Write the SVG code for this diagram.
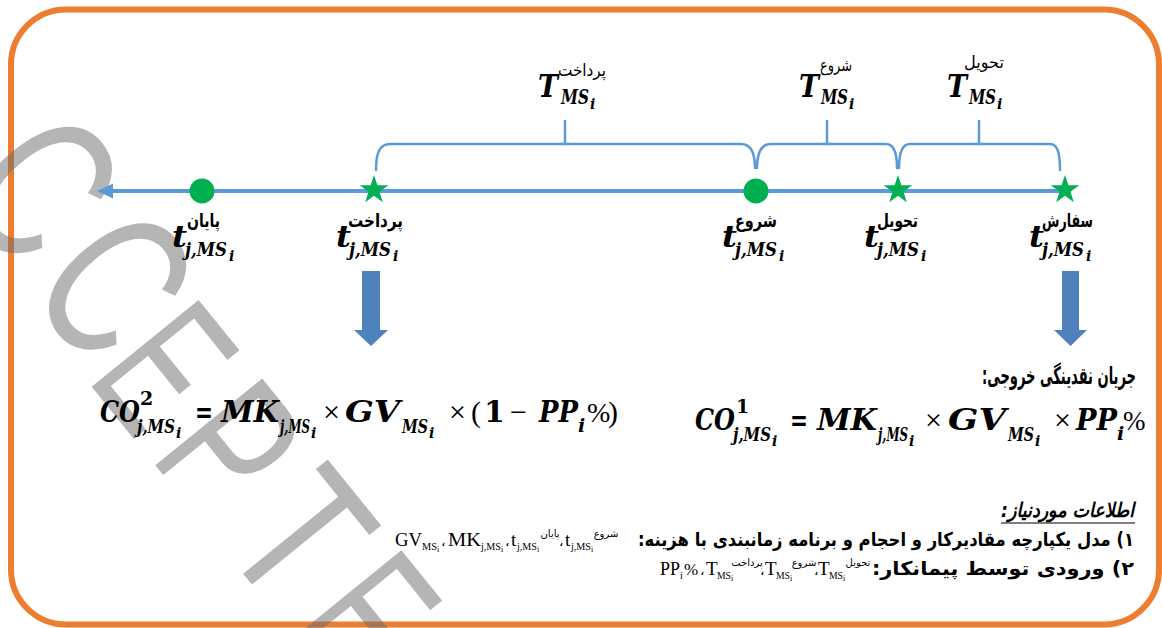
<svg xmlns="http://www.w3.org/2000/svg" width="1162" height="628" viewBox="0 0 1162 628">
<defs>
<style>
.mi{font-family:"DejaVu Serif",serif;font-weight:bold;font-style:italic;fill:#000}
.mb{font-family:"DejaVu Serif",serif;font-weight:bold;fill:#000}
.mr{font-family:"Liberation Serif",serif;fill:#000}
.fb{font-family:"DejaVu Sans",sans-serif;font-weight:bold;fill:#000}
.fr{font-family:"DejaVu Sans",sans-serif;fill:#000}
.rtl{direction:rtl}
.tn{font-family:"Liberation Serif",serif;fill:#000}
.ln{fill:none;stroke:#5B9BD5;stroke-width:2.5;stroke-linecap:round}
.wm{font-family:"Liberation Sans",sans-serif;font-size:200px;fill:#6B6B6B;fill-opacity:.5}
.dot{fill:#00B050}
.arr{fill:#4F81BD}
</style>
<path id="star" class="dot" d="M0,-15 L3.36,-4.64 L14.27,-4.64 L5.45,1.77 L8.82,12.14 L0,5.73 L-8.82,12.14 L-5.45,1.77 L-14.27,-4.64 L-3.36,-4.64 Z"/>
</defs>
<rect width="1162" height="628" fill="#fff"/>
<rect id="frame" x="11" y="9.5" width="1148" height="615" rx="55" fill="none" stroke="#ED7D31" stroke-width="6"/>

<g id="watermark" transform="rotate(51)">
<text class="wm" transform="translate(-14,172) scale(0.7,1)">A</text>
<text class="wm" transform="translate(118,160) scale(0.74,1.07)">C</text>
<text class="wm" transform="translate(240,163) scale(0.74,1.07)">C</text>
<text class="wm" transform="translate(348,172) scale(0.62,1)">E</text>
<text class="wm" transform="translate(448,172) scale(0.68,1)">P</text>
<text class="wm" transform="translate(560,172) scale(0.75,1)">T</text>
<text class="wm" transform="translate(670,172) scale(0.62,1)">E</text>
<text class="wm" transform="translate(770,172) scale(0.7,1)">D</text>
</g>

<g id="connectors">
<line x1="110" y1="191" x2="1065" y2="191" stroke="#5B9BD5" stroke-width="4"/>
<polygon points="97,191 113,183.5 113,198.5" fill="#5B9BD5"/>
<path class="ln" d="M376,170 C376,154 379,144 390,144 L741,144 C752,144 755,154 755,168"/>
<path class="ln" d="M757,168 C757,154 760,144 771,144 L886,144 C894,144 897,154 897,168"/>
<path class="ln" d="M899,168 C899,154 902,144 910,144 L1050,144 C1058,144 1060,154 1060,170"/>
<path class="ln" d="M565,144 V121 M827,144 V121 M979,144 V121"/>
</g>

<g id="T-pardakht">
<text class="fr" x="582" y="76" font-size="17" text-anchor="middle" textLength="48" lengthAdjust="spacingAndGlyphs">پرداخت</text>
<text class="mi" x="538" y="97" font-size="31" textLength="20" lengthAdjust="spacingAndGlyphs">T</text>
<text class="mi" x="561" y="104" font-size="20" textLength="28" lengthAdjust="spacingAndGlyphs">MS</text>
<text class="mi" x="590" y="109" font-size="14">i</text>
</g>
<g id="T-shoru">
<text class="fr" x="836" y="71" font-size="17" text-anchor="middle" textLength="32" lengthAdjust="spacingAndGlyphs">شروع</text>
<text class="mi" x="799" y="97" font-size="31" textLength="20" lengthAdjust="spacingAndGlyphs">T</text>
<text class="mi" x="821" y="104" font-size="20" textLength="27" lengthAdjust="spacingAndGlyphs">MS</text>
<text class="mi" x="849" y="109" font-size="14">i</text>
</g>
<g id="T-tahvil">
<text class="fr" x="984" y="68" font-size="17" text-anchor="middle" textLength="40" lengthAdjust="spacingAndGlyphs">تحویل</text>
<text class="mi" x="947" y="97" font-size="31" textLength="20" lengthAdjust="spacingAndGlyphs">T</text>
<text class="mi" x="969" y="104" font-size="20" textLength="27" lengthAdjust="spacingAndGlyphs">MS</text>
<text class="mi" x="997" y="109" font-size="14">i</text>
</g>

<g id="node-payan">
<circle class="dot" cx="202" cy="191" r="12.5"/>
<text class="fb" x="203.5" y="227" font-size="19" text-anchor="middle" textLength="33" lengthAdjust="spacingAndGlyphs">پایان</text>
<text class="mi" x="172" y="247" font-size="29" textLength="15" lengthAdjust="spacingAndGlyphs">t</text>
<text class="mi" x="185" y="256" font-size="19" textLength="42" lengthAdjust="spacingAndGlyphs">j,MS</text>
<text class="mi" x="229" y="261" font-size="14">i</text>
</g>
<g id="node-pardakht">
<use href="#star" x="374" y="190"/>
<text class="fb" x="375.5" y="227" font-size="19" text-anchor="middle" textLength="55" lengthAdjust="spacingAndGlyphs">پرداخت</text>
<text class="mi" x="336" y="247" font-size="29" textLength="15" lengthAdjust="spacingAndGlyphs">t</text>
<text class="mi" x="349" y="256" font-size="19" textLength="42" lengthAdjust="spacingAndGlyphs">j,MS</text>
<text class="mi" x="393" y="261" font-size="14">i</text>
</g>
<g id="node-shoru">
<circle class="dot" cx="756" cy="191" r="12.5"/>
<text class="fb" x="756" y="227" font-size="19" text-anchor="middle" textLength="42" lengthAdjust="spacingAndGlyphs">شروع</text>
<text class="mi" x="722" y="247" font-size="29" textLength="15" lengthAdjust="spacingAndGlyphs">t</text>
<text class="mi" x="735" y="256" font-size="19" textLength="42" lengthAdjust="spacingAndGlyphs">j,MS</text>
<text class="mi" x="779" y="261" font-size="14">i</text>
</g>
<g id="node-tahvil">
<use href="#star" x="898" y="190"/>
<text class="fb" x="897.5" y="227" font-size="19" text-anchor="middle" textLength="41" lengthAdjust="spacingAndGlyphs">تحویل</text>
<text class="mi" x="864" y="247" font-size="29" textLength="15" lengthAdjust="spacingAndGlyphs">t</text>
<text class="mi" x="877" y="256" font-size="19" textLength="42" lengthAdjust="spacingAndGlyphs">j,MS</text>
<text class="mi" x="921" y="261" font-size="14">i</text>
</g>
<g id="node-sefaresh">
<use href="#star" x="1065" y="190"/>
<text class="fb" x="1067.5" y="227" font-size="19" text-anchor="middle" textLength="51" lengthAdjust="spacingAndGlyphs">سفارش</text>
<text class="mi" x="1029" y="247" font-size="29" textLength="15" lengthAdjust="spacingAndGlyphs">t</text>
<text class="mi" x="1042" y="256" font-size="19" textLength="42" lengthAdjust="spacingAndGlyphs">j,MS</text>
<text class="mi" x="1086" y="261" font-size="14">i</text>
</g>

<g id="arrow-left">
<polygon class="arr" points="362,271 380,271 380,330 388,330 371,346 354,330 362,330"/>
</g>
<g id="arrow-right">
<polygon class="arr" points="1062,271 1079,271 1079,330 1087,330 1070.5,346 1054,330 1062,330"/>
</g>

<g id="formula-co2">
<text class="mi" x="100" y="422" font-size="30" textLength="40" lengthAdjust="spacingAndGlyphs">CO</text>
<text class="mb" x="140" y="405" font-size="19">2</text>
<text class="mi" x="137" y="433" font-size="19" textLength="38" lengthAdjust="spacingAndGlyphs">j,MS</text>
<text class="mi" x="176" y="438" font-size="14">i</text>
<text class="mb" x="195" y="422" font-size="30" textLength="18" lengthAdjust="spacingAndGlyphs">=</text>
<text class="mi" x="221" y="422" font-size="30" textLength="58" lengthAdjust="spacingAndGlyphs">MK</text>
<text class="mi" x="280" y="433" font-size="19" textLength="30" lengthAdjust="spacingAndGlyphs">j,MS</text>
<text class="mi" x="311" y="438" font-size="14">i</text>
<text class="mr" x="323" y="422" font-size="30">×</text>
<text class="mi" x="345" y="422" font-size="30" textLength="55" lengthAdjust="spacingAndGlyphs">GV</text>
<text class="mi" x="402" y="433" font-size="19" textLength="26" lengthAdjust="spacingAndGlyphs">MS</text>
<text class="mi" x="429" y="438" font-size="14">i</text>
<text class="mr" x="449" y="422" font-size="30">×</text>
<text class="mr" x="471" y="422" font-size="30">(</text>
<text class="mb" x="484" y="422" font-size="30">1</text>
<text class="mr" x="510" y="422" font-size="30">−</text>
<text class="mi" x="539" y="422" font-size="30" textLength="39" lengthAdjust="spacingAndGlyphs">PP</text>
<text class="mi" x="578" y="432" font-size="19">i</text>
<text class="mr" x="587" y="422" font-size="28">%</text>
<text class="mr" x="608" y="422" font-size="30">)</text>
</g>

<g id="formula-co1">
<text class="fb rtl" x="1136" y="384" font-size="24" textLength="154" lengthAdjust="spacingAndGlyphs">جریان نقدینگی خروجی:</text>
<text class="mi" x="695" y="430" font-size="30" textLength="40" lengthAdjust="spacingAndGlyphs">CO</text>
<text class="mb" x="736" y="413" font-size="19">1</text>
<text class="mi" x="733" y="441" font-size="19" textLength="38" lengthAdjust="spacingAndGlyphs">j,MS</text>
<text class="mi" x="772" y="446" font-size="14">i</text>
<text class="mb" x="790" y="430" font-size="30" textLength="18" lengthAdjust="spacingAndGlyphs">=</text>
<text class="mi" x="817" y="430" font-size="30" textLength="60" lengthAdjust="spacingAndGlyphs">MK</text>
<text class="mi" x="878" y="441" font-size="19" textLength="30" lengthAdjust="spacingAndGlyphs">j,MS</text>
<text class="mi" x="909" y="446" font-size="14">i</text>
<text class="mr" x="925" y="430" font-size="30">×</text>
<text class="mi" x="948" y="430" font-size="30" textLength="58" lengthAdjust="spacingAndGlyphs">GV</text>
<text class="mi" x="1008" y="441" font-size="19" textLength="26" lengthAdjust="spacingAndGlyphs">MS</text>
<text class="mi" x="1035" y="446" font-size="14">i</text>
<text class="mr" x="1054" y="430" font-size="30">×</text>
<text class="mi" x="1076" y="430" font-size="30" textLength="41" lengthAdjust="spacingAndGlyphs">PP</text>
<text class="mi" x="1117" y="440" font-size="19">i</text>
<text class="mr" x="1123" y="430" font-size="27">%</text>
</g>

<g id="info">
<text class="fb rtl" x="1134" y="517" font-size="20" font-style="italic" textLength="133" lengthAdjust="spacingAndGlyphs">اطلاعات موردنیاز:</text>
<line x1="1001" y1="523" x2="1135" y2="523" stroke="#000" stroke-width="1.2"/>

<text class="fb rtl" x="1134" y="546" font-size="19" textLength="496" lengthAdjust="spacingAndGlyphs">۱) مدل یکپارچه مقادیرکار و احجام و برنامه زمانبندی با هزینه:</text>
<text class="tn" x="395" y="546" font-size="19" textLength="27" lengthAdjust="spacingAndGlyphs">GV</text>
<text class="tn" x="422" y="550" font-size="11" textLength="15" lengthAdjust="spacingAndGlyphs">MS</text>
<text class="tn" x="437" y="552" font-size="8">i</text>
<text class="fr" x="441" y="546" font-size="14">،</text>
<text class="tn" x="448" y="546" font-size="19" textLength="33" lengthAdjust="spacingAndGlyphs">MK</text>
<text class="tn" x="481" y="550" font-size="11" textLength="20" lengthAdjust="spacingAndGlyphs">j,MS</text>
<text class="tn" x="501" y="552" font-size="8">i</text>
<text class="fr" x="505" y="546" font-size="14">،</text>
<text class="tn" x="511" y="546" font-size="19">t</text>
<text class="tn" x="517" y="550" font-size="11" textLength="20" lengthAdjust="spacingAndGlyphs">j,MS</text>
<text class="tn" x="537" y="552" font-size="8">i</text>
<text class="fr" x="550" y="537" font-size="10" text-anchor="middle">پایان</text>
<text class="fr" x="559" y="546" font-size="14">،</text>
<text class="tn" x="565" y="546" font-size="19">t</text>
<text class="tn" x="571" y="550" font-size="11" textLength="20" lengthAdjust="spacingAndGlyphs">j,MS</text>
<text class="tn" x="591" y="552" font-size="8">i</text>
<text class="fr" x="606" y="537" font-size="10" text-anchor="middle">شروع</text>

<text class="fb rtl" x="1134" y="575" font-size="19" textLength="262" lengthAdjust="spacingAndGlyphs">۲) ورودی توسط پیمانکار:</text>
<text class="tn" x="660" y="575" font-size="19" textLength="20" lengthAdjust="spacingAndGlyphs">PP</text>
<text class="tn" x="680" y="579" font-size="10">i</text>
<text class="tn" x="684" y="575" font-size="17">%</text>
<text class="fr" x="700" y="575" font-size="14">،</text>
<text class="tn" x="706" y="575" font-size="19">T</text>
<text class="tn" x="717" y="579" font-size="11" textLength="14" lengthAdjust="spacingAndGlyphs">MS</text>
<text class="tn" x="731" y="581" font-size="8">i</text>
<text class="fr" x="747" y="566" font-size="10" text-anchor="middle">پرداخت</text>
<text class="fr" x="760" y="575" font-size="14">،</text>
<text class="tn" x="765" y="575" font-size="19">T</text>
<text class="tn" x="776" y="579" font-size="11" textLength="14" lengthAdjust="spacingAndGlyphs">MS</text>
<text class="tn" x="790" y="581" font-size="8">i</text>
<text class="fr" x="804" y="566" font-size="10" text-anchor="middle">شروع</text>
<text class="fr" x="814" y="575" font-size="14">،</text>
<text class="tn" x="818" y="575" font-size="19">T</text>
<text class="tn" x="829" y="579" font-size="11" textLength="14" lengthAdjust="spacingAndGlyphs">MS</text>
<text class="tn" x="843" y="581" font-size="8">i</text>
<text class="fr" x="858" y="566" font-size="10" text-anchor="middle">تحویل</text>
</g>
</svg>
